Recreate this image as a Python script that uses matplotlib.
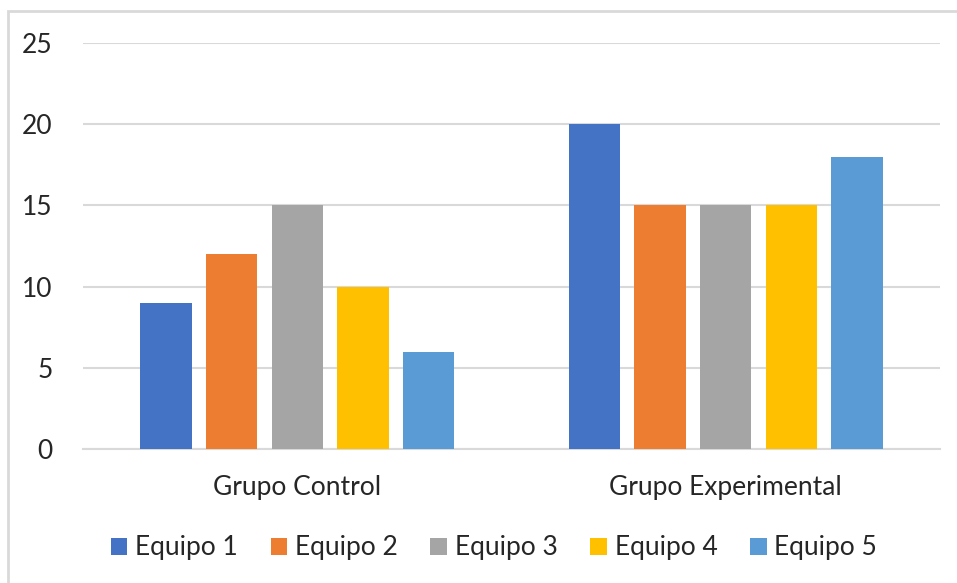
import numpy as np
import matplotlib
matplotlib.use("Agg")
import matplotlib.pyplot as plt
from matplotlib.patches import Rectangle

plt.rcParams['font.family'] = ['Lato', 'DejaVu Sans']

grupos = ['Grupo Control', 'Grupo Experimental']
equipos = ['Equipo 1', 'Equipo 2', 'Equipo 3', 'Equipo 4', 'Equipo 5']
equipo1 = [9, 20]
equipo2 = [12, 15]
equipo3 = [15, 15]
equipo4 = [10, 15]
equipo5 = [6, 18]
series = [equipo1, equipo2, equipo3, equipo4, equipo5]
colores = ['#4472C4', '#ED7D31', '#A5A5A5', '#FFC000', '#5B9BD5']

fig = plt.figure(figsize=(9.57, 5.83), dpi=100)
ax = fig.add_axes([83 / 957, 134 / 583, 857 / 957, 406 / 583])

x = np.arange(len(grupos))
ancho = 0.12
paso = 0.153
for i, (vals, c) in enumerate(zip(series, colores)):
    ax.bar(x + (i - 2) * paso, vals, ancho, color=c, label=equipos[i], zorder=3)

ax.set_xlim(-0.5, 1.5)
ax.set_ylim(0, 25)
ax.set_yticks([0, 5, 10, 15, 20, 25])
ax.set_xticks(x)
ax.set_xticklabels(grupos)
ax.grid(axis='y', color='#D9D9D9', linewidth=1.5, zorder=0)
for s in ['top', 'right', 'left']:
    ax.spines[s].set_visible(False)
ax.spines['bottom'].set_color('#D9D9D9')
ax.spines['bottom'].set_linewidth(1.5)
ax.tick_params(axis='y', length=0, pad=22, labelsize=19, labelcolor='#262626')
ax.tick_params(axis='x', length=0, pad=19, labelsize=19, labelcolor='#262626')

fig.legend(loc='center', bbox_to_anchor=(494 / 957, 1 - 548 / 583), ncol=5, frameon=False,
           fontsize=19, handlelength=0.62, handleheight=0.62, handletextpad=0.3,
           columnspacing=1.24, labelcolor='#262626')

# borde gris del grafico
fig.patches.append(Rectangle((8 / 957, -0.1), 1.2, (583 - 11) / 583 + 0.1,
                             transform=fig.transFigure, fill=False,
                             edgecolor='#D9D9D9', linewidth=2))

fig.savefig('out.png', dpi=100)
